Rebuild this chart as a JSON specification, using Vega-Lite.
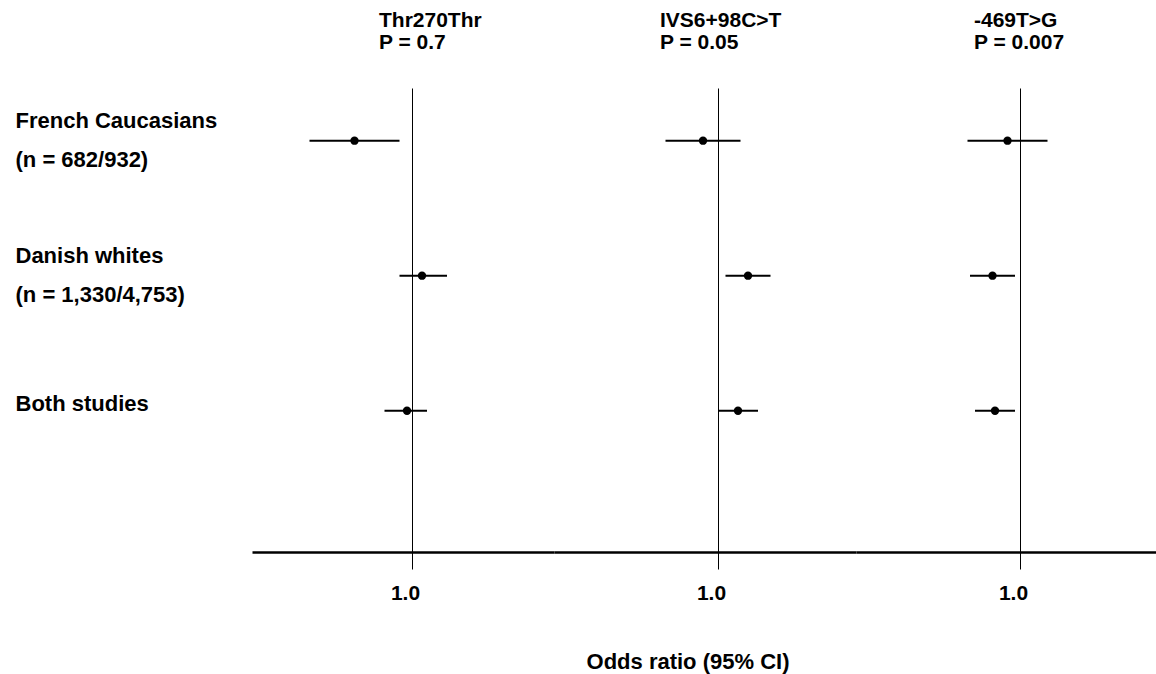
{
  "$schema": "https://vega.github.io/schema/vega-lite/v6.json",
  "padding": {"left": 15, "top": 10, "right": 0, "bottom": 2},
  "spacing": 0,
  "bounds": "flush",
  "background": "white",
  "config": {
    "font": "Liberation Sans",
    "view": {"stroke": null},
    "concat": {"spacing": 0},
    "title": {
      "font": "Liberation Sans", "fontSize": 21, "fontWeight": "bold", "color": "black",
      "subtitleFont": "Liberation Sans", "subtitleFontSize": 21, "subtitleFontWeight": "bold", "subtitleColor": "black",
      "subtitlePadding": 1, "offset": 35, "anchor": "start", "frame": "group"
    },
    "axisX": {
      "format": ".1f", "grid": true, "gridColor": "black", "gridWidth": 1, "gridOpacity": 1,
      "ticks": true, "tickSize": 17, "tickColor": "black", "tickWidth": 1,
      "domainColor": "black", "domainWidth": 2.5,
      "labelFont": "Liberation Sans", "labelFontSize": 21, "labelFontWeight": "bold", "labelColor": "black",
      "labelPadding": 13, "labelOffset": -7, "labelFlush": false, "labelOverlap": false,
      "titleFont": "Liberation Sans", "titleFontSize": 22, "titleFontWeight": "bold", "titleColor": "black"
    }
  },
  "data": {"values": [
    {"snp": "Thr270Thr", "cohort": "French Caucasians\n(n = 682/932)", "or": 0.77, "lo": 0.59, "hi": 0.95},
    {"snp": "Thr270Thr", "cohort": "Danish whites\n(n = 1,330/4,753)", "or": 1.04, "lo": 0.95, "hi": 1.14},
    {"snp": "Thr270Thr", "cohort": "Both studies", "or": 0.98, "lo": 0.89, "hi": 1.06},
    {"snp": "IVS6+98C>T", "cohort": "French Caucasians\n(n = 682/932)", "or": 0.94, "lo": 0.79, "hi": 1.09},
    {"snp": "IVS6+98C>T", "cohort": "Danish whites\n(n = 1,330/4,753)", "or": 1.12, "lo": 1.03, "hi": 1.21},
    {"snp": "IVS6+98C>T", "cohort": "Both studies", "or": 1.08, "lo": 1.0, "hi": 1.16},
    {"snp": "-469T>G", "cohort": "French Caucasians\n(n = 682/932)", "or": 0.95, "lo": 0.79, "hi": 1.11},
    {"snp": "-469T>G", "cohort": "Danish whites\n(n = 1,330/4,753)", "or": 0.89, "lo": 0.8, "hi": 0.98},
    {"snp": "-469T>G", "cohort": "Both studies", "or": 0.9, "lo": 0.82, "hi": 0.98}
  ]},
  "resolve": {"scale": {"x": "independent"}, "axis": {"x": "independent", "y": "independent"}},
  "hconcat": [
    {
      "width": 302, "height": 464,
      "title": {"text": "Thr270Thr", "subtitle": "P = 0.7", "dx": 127},
      "transform": [{"filter": "datum.snp === 'Thr270Thr'"}],
      "encoding": {
        "y": {"field": "cohort", "type": "ordinal",
          "scale": {"type": "point", "domain": ["French Caucasians\n(n = 682/932)", "Danish whites\n(n = 1,330/4,753)", "Both studies"], "padding": 0.7185, "align": 0.2716},
          "axis": {"title": null, "domain": false, "ticks": false, "tickSize": 0, "grid": false,
            "labelAlign": "left", "labelBaseline": "middle", "labelPadding": 237, "labelLimit": 400,
            "labelFont": "Liberation Sans", "labelFontSize": 22, "labelFontWeight": "bold", "labelColor": "black",
            "labelLineHeight": 39, "labelExpr": "split(datum.label, '\\n')",
            "labelOffset": {"condition": {"test": "datum.value === 'Both studies'", "value": -7}, "value": -20}}}
      },
      "layer": [
        {"mark": {"type": "rule", "strokeWidth": 2, "color": "black"},
         "encoding": {
           "x": {"field": "lo", "type": "quantitative", "title": null,
             "scale": {"domain": [0.36, 1.568], "nice": false, "zero": false},
             "axis": {"values": [1], "title": null}},
           "x2": {"field": "hi"}}},
        {"mark": {"type": "point", "filled": true, "size": 70, "color": "black", "opacity": 1},
         "encoding": {"x": {"field": "or", "type": "quantitative", "title": null, "axis": {"values": [1], "title": null}}}}
      ]
    },
    {
      "width": 302, "height": 464,
      "title": {"text": "IVS6+98C>T", "subtitle": "P = 0.05", "dx": 106},
      "transform": [{"filter": "datum.snp === 'IVS6+98C>T'"}],
      "encoding": {
        "y": {"field": "cohort", "type": "ordinal",
          "scale": {"type": "point", "domain": ["French Caucasians\n(n = 682/932)", "Danish whites\n(n = 1,330/4,753)", "Both studies"], "padding": 0.7185, "align": 0.2716},
          "axis": null}
      },
      "layer": [
        {"mark": {"type": "rule", "strokeWidth": 2, "color": "black"},
         "encoding": {
           "x": {"field": "lo", "type": "quantitative", "title": "Odds ratio (95% CI)",
             "scale": {"domain": [0.344, 1.552], "nice": false, "zero": false},
             "axis": {"values": [1], "titleX": 133.5, "titleY": 116, "titleBaseline": "alphabetic", "titleAlign": "center"}},
           "x2": {"field": "hi"}}},
        {"mark": {"type": "point", "filled": true, "size": 70, "color": "black", "opacity": 1},
         "encoding": {"x": {"field": "or", "type": "quantitative", "title": "Odds ratio (95% CI)",
           "axis": {"values": [1], "titleX": 133.5, "titleY": 116, "titleBaseline": "alphabetic", "titleAlign": "center"}}}}
      ]
    },
    {
      "width": 300, "height": 464,
      "title": {"text": "-469T>G", "subtitle": "P = 0.007", "dx": 118},
      "transform": [{"filter": "datum.snp === '-469T>G'"}],
      "encoding": {
        "y": {"field": "cohort", "type": "ordinal",
          "scale": {"type": "point", "domain": ["French Caucasians\n(n = 682/932)", "Danish whites\n(n = 1,330/4,753)", "Both studies"], "padding": 0.7185, "align": 0.2716},
          "axis": null}
      },
      "layer": [
        {"mark": {"type": "rule", "strokeWidth": 2, "color": "black"},
         "encoding": {
           "x": {"field": "lo", "type": "quantitative", "title": null,
             "scale": {"domain": [0.344, 1.544], "nice": false, "zero": false},
             "axis": {"values": [1], "title": null}},
           "x2": {"field": "hi"}}},
        {"mark": {"type": "point", "filled": true, "size": 70, "color": "black", "opacity": 1},
         "encoding": {"x": {"field": "or", "type": "quantitative", "title": null, "axis": {"values": [1], "title": null}}}}
      ]
    }
  ]
}
